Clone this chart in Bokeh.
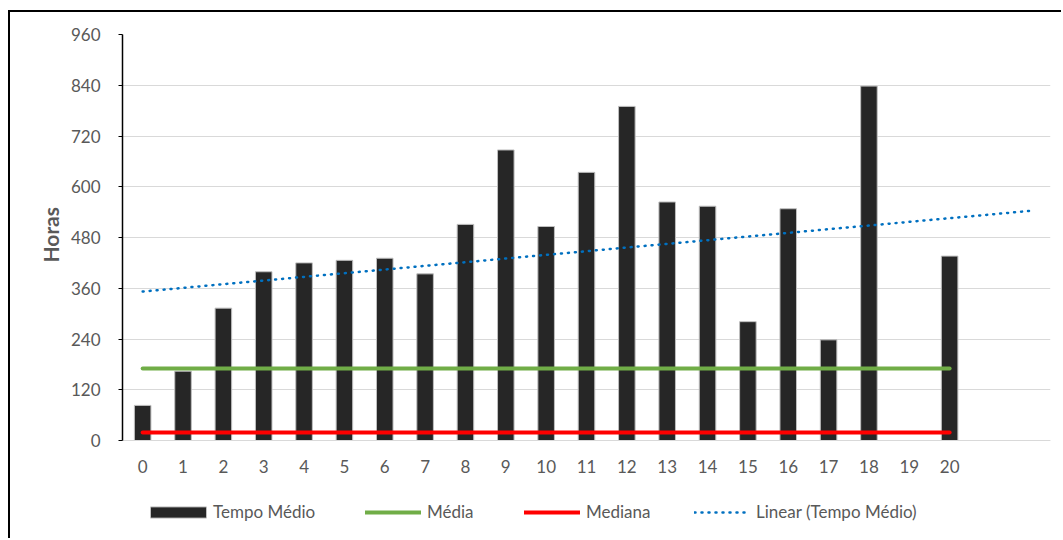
import numpy as np
from bokeh.plotting import figure
from bokeh.models import Range1d, FixedTicker, Legend, LegendItem, Title
from bokeh.embed import file_html
from bokeh.resources import INLINE

# Average time (hours) per category; category 19 has no value
categories = list(range(21))
tempo_medio = [83, 164, 313, 399, 420, 426, 431, 394, 511, 687, 506,
               634, 790, 564, 554, 281, 548, 238, 838, np.nan, 436]
media = 170
mediana = 19
y_ticks = [0, 120, 240, 360, 480, 600, 720, 840, 960]
forecast_periods = 2

FONT = "Lato"
TEXT = "#595959"
GRID = "#D9D9D9"

# the frame runs to the bottom of the canvas; the value axis covers 0..960
# over 406 px and the 100 px under zero hold the category labels and legend
Y_MAX = 960
Y_MIN = -Y_MAX * 100 / 406

p = figure(width=1053, height=528,
           x_range=Range1d(-0.5, 22.5), y_range=Range1d(Y_MIN, Y_MAX),
           output_backend="svg", toolbar_location=None,
           min_border_left=112, min_border_right=13,
           min_border_top=22, min_border_bottom=0)
p.margin = (10, 0, 0, 8)
p.styles = {"border-left": "2px solid #000000", "border-top": "2px solid #000000"}
p.outline_line_color = None
p.background_fill_color = "white"
p.border_fill_color = "white"

# bars
bars = p.vbar(x=categories, top=tempo_medio, width=0.41,
              fill_color="#262626", line_color="#BFBFBF", line_width=1)

# mean and median reference lines
x_span = [categories[0], categories[-1]]
r_media = p.line(x_span, [media, media], line_color="#70AD47",
                 line_width=4, line_cap="round")
r_mediana = p.line(x_span, [mediana, mediana], line_color="#FF0000",
                   line_width=4, line_cap="round")

# linear trend of the bars (blank treated as zero), forecast forward
xs = np.array(categories, dtype=float)
ys = np.nan_to_num(np.array(tempo_medio, dtype=float))
slope, intercept = np.polyfit(xs, ys, 1)
trend_x = [xs[0], xs[-1] + forecast_periods]
trend_y = [intercept + slope * x for x in trend_x]
r_trend = p.line(trend_x, trend_y, line_color="#0070C0", line_width=2.5,
                 line_dash="1 6", line_cap="round")

# axes
p.xgrid.visible = False
p.ygrid.grid_line_color = GRID
p.ygrid.grid_line_width = 1
p.ygrid.ticker = FixedTicker(ticks=y_ticks)

p.yaxis.ticker = FixedTicker(ticks=y_ticks)
p.yaxis.bounds = (0, Y_MAX)
p.yaxis.axis_line_color = "black"
p.yaxis.axis_line_width = 1.5
p.yaxis.major_tick_line_color = "black"
p.yaxis.major_tick_out = 4
p.yaxis.major_tick_in = 0
p.yaxis.minor_tick_line_color = None
p.yaxis.major_label_standoff = 18
p.yaxis.major_label_text_font = FONT
p.yaxis.major_label_text_font_size = "17px"
p.yaxis.major_label_text_color = TEXT

# value-axis title, placed from the bottom of the frame so it sits
# in the middle of the 0..960 span
p.add_layout(Title(text="Horas", align="left", offset=278, standoff=10,
                   text_font=FONT, text_font_size="21px",
                   text_font_style="bold", text_color=TEXT), "left")

p.xaxis.fixed_location = 0
p.xaxis.ticker = FixedTicker(ticks=categories)
p.xaxis.axis_line_color = GRID
p.xaxis.major_tick_line_color = None
p.xaxis.minor_tick_line_color = None
p.xaxis.major_label_standoff = 13
p.xaxis.major_label_text_font = FONT
p.xaxis.major_label_text_font_size = "17px"
p.xaxis.major_label_text_color = TEXT

# legend entries, one box each, along the bottom of the frame
# (label, renderer, x offset, glyph width, glyph height, label standoff)
entries = [("Tempo Médio", bars, 21, 70, 14, 0),
           ("Média", r_media, 243, 56, 14, 6),
           ("Mediana", r_mediana, 402, 56, 14, 6),
           ("Linear (Tempo Médio)", r_trend, 572, 56, 14, 6)]
for label, rend, xoff, gw, gh, gap in entries:
    leg = Legend(items=[LegendItem(label=label, renderers=[rend])],
                 location=(xoff, 18), orientation="horizontal",
                 glyph_width=gw, glyph_height=gh, label_standoff=gap,
                 label_height=20, padding=0, margin=0,
                 border_line_color=None, background_fill_alpha=0,
                 label_text_font=FONT, label_text_font_size="17px",
                 label_text_color=TEXT)
    p.add_layout(leg)

open("out.html", "w").write(file_html(p, INLINE))
